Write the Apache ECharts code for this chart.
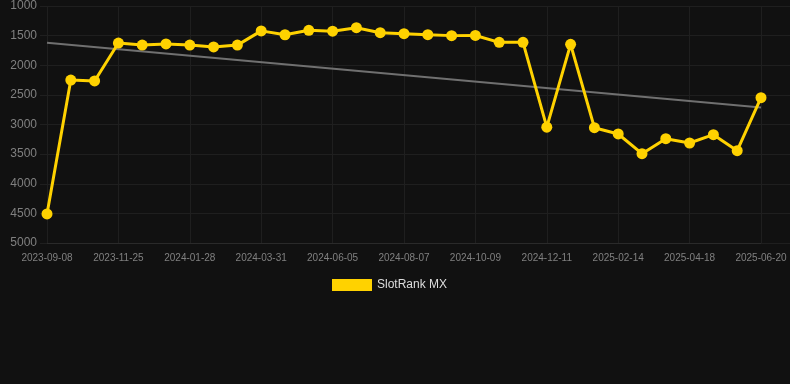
<!DOCTYPE html>
<html>
<head>
<meta charset="utf-8">
<script src="https://cdn.jsdelivr.net/npm/echarts@6/dist/echarts.min.js"></script>
<style>
html,body{margin:0;padding:0;background:#111111;}
#chart{width:790px;height:384px;}
</style>
</head>
<body>
<div id="chart"></div>
<script>
var categories = ['2023-09-08','2023-10-04','2023-10-30','2023-11-25','2023-12-16','2024-01-06','2024-01-28','2024-02-18','2024-03-10','2024-03-31','2024-04-22','2024-05-14','2024-06-05','2024-06-26','2024-07-17','2024-08-07','2024-08-28','2024-09-18','2024-10-09','2024-10-30','2024-11-20','2024-12-11','2025-01-02','2025-01-23','2025-02-14','2025-03-07','2025-03-28','2025-04-18','2025-05-09','2025-05-30','2025-06-20'];
var rankValues = [4510,2250,2265,1625,1660,1640,1660,1690,1660,1420,1485,1410,1425,1366,1450,1467,1484,1500,1497,1613,1613,3045,1647,3054,3160,3493,3240,3312,3172,3442,2548];
var trendStart = 1620;
var trendEnd = 2712;
var yTicks = {min:1000, max:5000, interval:500};
var seriesName = 'SlotRank MX';

var trendData = categories.map(function(c,i){
  if(i===0) return trendStart;
  if(i===categories.length-1) return trendEnd;
  return null;
});

var chart = echarts.init(document.getElementById('chart'), null, {renderer:'canvas'});
var gridColor = '#1f1f1f';
var font = 'Liberation Sans, Arial, sans-serif';
chart.setOption({
  backgroundColor:'#111111',
  animation:false,
  grid:{left:47, right:29, top:6, bottom:141, containLabel:false},
  legend:{
    data:[seriesName], top:274, left:327,
    itemWidth:40, itemHeight:12, icon:'rect', itemGap:10,
    textStyle:{color:'#dddddd', fontSize:12, fontFamily:font}
  },
  xAxis:{
    type:'category', data:categories, boundaryGap:false,
    axisLine:{show:true, lineStyle:{color:'#2a2a2a'}},
    axisTick:{show:false},
    axisLabel:{interval:2, color:'#808080', fontSize:10, margin:10, fontFamily:font},
    splitLine:{show:true, interval:2, lineStyle:{color:gridColor, width:1}}
  },
  yAxis:[{
    type:'value', inverse:true, min:yTicks.min, max:yTicks.max, interval:yTicks.interval,
    axisLine:{show:false},
    axisTick:{show:true, length:7, lineStyle:{color:gridColor}},
    axisLabel:{color:'#808080', fontSize:12, margin:10, fontFamily:font,
      formatter:function(v){return String(v);}},
    splitLine:{show:true, lineStyle:{color:gridColor, width:1}}
  },{
    type:'value', inverse:true, position:'right', min:yTicks.min, max:yTicks.max, interval:yTicks.interval,
    axisLine:{show:false},
    axisTick:{show:true, length:29, lineStyle:{color:gridColor}},
    axisLabel:{show:false},
    splitLine:{show:false}
  }],
  series:[{
    name:'trend', type:'line', data:trendData, connectNulls:true,
    symbol:'none', lineStyle:{color:'#707070', width:2}, z:1, silent:true
  },{
    name:seriesName, type:'line', data:rankValues,
    symbol:'circle', symbolSize:11,
    itemStyle:{color:'#FFD200'},
    lineStyle:{color:'#FFD200', width:3}, z:3
  }]
});
</script>
</body>
</html>
